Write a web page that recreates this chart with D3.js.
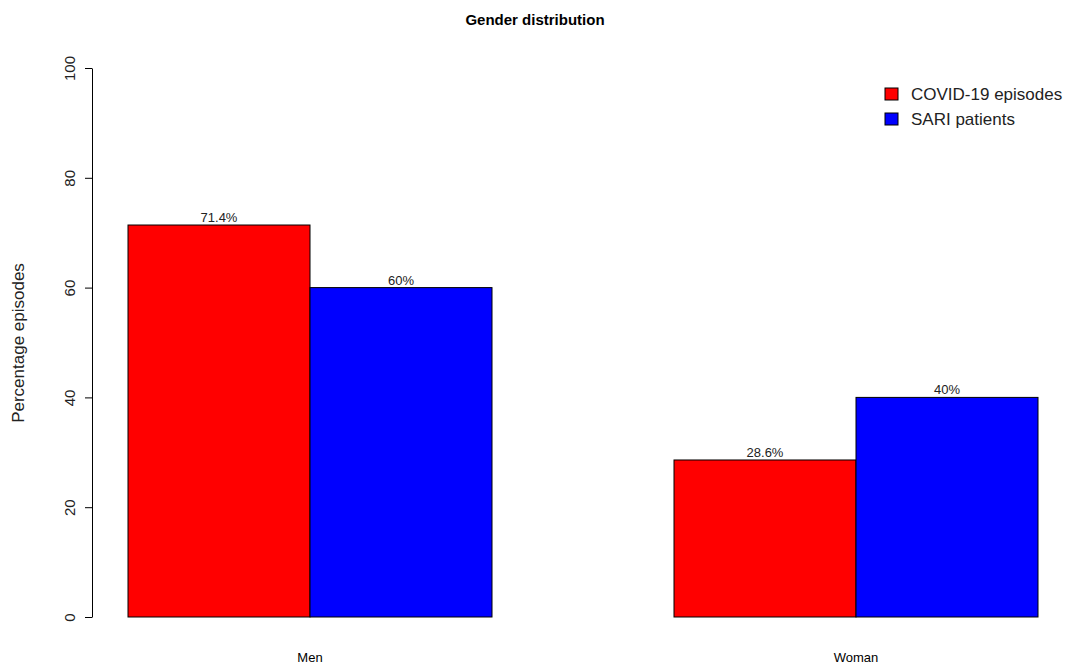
<!DOCTYPE html>
<html><head><meta charset="utf-8">
<script src="https://cdn.jsdelivr.net/npm/d3@7"></script>
<style>body{margin:0;background:#fff}text{font-family:"Liberation Sans",Arial,sans-serif}</style>
</head><body>
<script>
var groups = ["Men", "Woman"];
var series = ["COVID-19 episodes", "SARI patients"];
var colors = ["#ff0000", "#0000ff"];
var covid = [71.4, 28.6];
var sari = [60, 40];
var yTicks = [0, 20, 40, 60, 80, 100];

var svg = d3.select("body").append("svg").attr("width", 1070).attr("height", 668);

var y = d3.scaleLinear().domain([0, 100]).range([617, 68]);
var x0 = d3.scaleBand().domain(groups).range([128, 1038]).paddingInner(1/3).paddingOuter(0);
var x1 = d3.scaleBand().domain(series).range([0, x0.bandwidth()]);

var rows = [];
groups.forEach(function(g, i) {
  rows.push({g: g, s: series[0], v: covid[i], c: colors[0]});
  rows.push({g: g, s: series[1], v: sari[i], c: colors[1]});
});

svg.selectAll("rect.bar").data(rows).enter().append("rect")
  .attr("class", "bar")
  .attr("x", function(d) { return x0(d.g) + x1(d.s); })
  .attr("y", function(d) { return y(d.v); })
  .attr("width", x1.bandwidth())
  .attr("height", function(d) { return y(0) - y(d.v); })
  .attr("fill", function(d) { return d.c; })
  .attr("stroke", "#000").attr("stroke-width", 1);

svg.selectAll("text.val").data(rows).enter().append("text")
  .attr("x", function(d) { return x0(d.g) + x1(d.s) + x1.bandwidth() / 2; })
  .attr("y", function(d) { return y(d.v) - 3; })
  .attr("text-anchor", "middle").style("font-size", "13px").attr("fill", "#222")
  .text(function(d) { return d.v + "%"; });

// y axis
var ax = svg.append("g").attr("transform", "translate(92,0)")
  .call(d3.axisLeft(y).tickValues(yTicks).tickSize(7).tickSizeOuter(0));
ax.select(".domain").attr("stroke", "#000");
ax.selectAll("text").attr("transform", "rotate(-90)").attr("x", 0).attr("y", -22)
  .attr("dy", "0.35em").attr("text-anchor", "middle").style("font-size", "15px")
  .style("font-family", "Liberation Sans, Arial, sans-serif").attr("fill", "#222");

// group labels
svg.selectAll("text.grp").data(groups).enter().append("text")
  .attr("x", function(d) { return x0(d) + x0.bandwidth() / 2; })
  .attr("y", 662).attr("text-anchor", "middle").style("font-size", "13px")
  .text(function(d) { return d; });

svg.append("text").attr("x", 535).attr("y", 25).attr("text-anchor", "middle")
  .style("font-size", "15px").style("font-weight", "bold").text("Gender distribution");

svg.append("text").attr("transform", "translate(24,343) rotate(-90)")
  .attr("text-anchor", "middle").style("font-size", "17px").attr("fill", "#222")
  .text("Percentage episodes");

// legend
var leg = svg.selectAll("g.leg").data(series).enter().append("g")
  .attr("transform", function(d, i) { return "translate(885," + (88 + i * 25) + ")"; });
leg.append("rect").attr("width", 13).attr("height", 12)
  .attr("fill", function(d, i) { return colors[i]; }).attr("stroke", "#000");
leg.append("text").attr("x", 26).attr("y", 12).style("font-size", "17px").attr("fill", "#222")
  .text(function(d) { return d; });
</script>
</body></html>
